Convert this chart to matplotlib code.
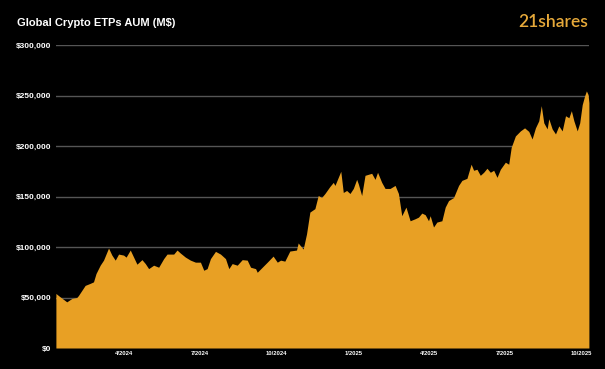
import matplotlib
matplotlib.use("Agg")
import matplotlib.pyplot as plt
import pandas as pd

# Global crypto ETP assets under management (millions of USD)
dates = [
    "2024-01-11", "2024-01-16", "2024-01-24", "2024-01-30", "2024-02-05", "2024-02-07",
    "2024-02-11", "2024-02-15", "2024-02-21", "2024-02-25", "2024-02-28", "2024-03-04",
    "2024-03-08", "2024-03-12", "2024-03-14", "2024-03-18", "2024-03-22", "2024-03-26",
    "2024-04-01", "2024-04-04", "2024-04-09", "2024-04-13", "2024-04-17", "2024-04-23",
    "2024-04-27", "2024-05-01", "2024-05-07", "2024-05-13", "2024-05-19", "2024-05-23",
    "2024-05-31", "2024-06-04", "2024-06-08", "2024-06-14", "2024-06-20", "2024-06-26",
    "2024-07-02", "2024-07-06", "2024-07-10", "2024-07-14", "2024-07-20", "2024-07-26",
    "2024-08-01", "2024-08-05", "2024-08-09", "2024-08-15", "2024-08-21", "2024-08-27",
    "2024-08-31", "2024-09-06", "2024-09-08", "2024-09-14", "2024-09-20", "2024-09-27",
    "2024-10-02", "2024-10-06", "2024-10-11", "2024-10-17", "2024-10-25", "2024-10-27",
    "2024-11-02", "2024-11-06", "2024-11-10", "2024-11-16", "2024-11-20", "2024-11-24",
    "2024-11-28", "2024-12-04", "2024-12-08", "2024-12-10", "2024-12-14", "2024-12-17",
    "2024-12-20", "2024-12-24", "2024-12-28", "2025-01-01", "2025-01-05", "2025-01-07",
    "2025-01-11", "2025-01-15", "2025-01-19", "2025-01-23", "2025-01-27", "2025-01-30",
    "2025-02-04", "2025-02-08", "2025-02-14", "2025-02-20", "2025-02-24", "2025-02-28",
    "2025-03-05", "2025-03-10", "2025-03-16", "2025-03-20", "2025-03-24", "2025-03-28",
    "2025-04-01", "2025-04-03", "2025-04-07", "2025-04-11", "2025-04-17", "2025-04-21",
    "2025-04-25", "2025-05-01", "2025-05-07", "2025-05-11", "2025-05-17", "2025-05-22",
    "2025-05-25", "2025-05-29", "2025-06-02", "2025-06-06", "2025-06-10", "2025-06-14",
    "2025-06-18", "2025-06-22", "2025-06-26", "2025-07-02", "2025-07-06", "2025-07-09",
    "2025-07-14", "2025-07-20", "2025-07-25", "2025-07-30", "2025-08-03", "2025-08-07",
    "2025-08-11", "2025-08-14", "2025-08-17", "2025-08-21", "2025-08-23", "2025-08-27",
    "2025-08-31", "2025-09-04", "2025-09-08", "2025-09-12", "2025-09-16", "2025-09-19",
    "2025-09-22", "2025-09-26", "2025-09-29", "2025-10-02", "2025-10-05", "2025-10-07",
    "2025-10-09", "2025-10-10",
]
aum = [
    54000, 50700, 45700, 49000, 50000, 52000,
    57000, 62000, 64000, 65500, 73700, 82000,
    87000, 95000, 99000, 92000, 87000, 93000,
    92000, 90000, 97000, 90000, 83000, 87500,
    83600, 78600, 82000, 80000, 88500, 93000,
    93000, 97000, 94000, 90000, 87000, 85000,
    85000, 77000, 78600, 88500, 95700, 93000,
    88500, 78600, 83600, 82000, 87500, 87000,
    80000, 78600, 75000, 80000, 85000, 91000,
    85000, 87000, 86000, 96000, 97000, 104000,
    98000, 113000, 134600, 138000, 151000, 149000,
    153000, 160000, 164000, 161000, 169000, 175000,
    154000, 156000, 153000, 158000, 167000, 162500,
    151000, 171000, 172000, 173000, 167000, 174000,
    164000, 158000, 158000, 161000, 153000, 131000,
    139500, 126000, 128000, 129600, 133600, 132000,
    126000, 131000, 119800, 124700, 126000, 139500,
    146000, 149000, 161000, 166000, 168000, 182000,
    176000, 177000, 171000, 174000, 178000, 174000,
    176000, 169000, 177000, 184000, 182000, 198700,
    210000, 215000, 218000, 214500, 207000, 218000,
    225000, 240000, 223000, 217000, 227000, 217000,
    212000, 220000, 215000, 230000, 228000, 235000,
    225000, 215000, 223000, 241000, 250000, 254600,
    251000, 243000,
]

tick_dates = ["2024-04-01", "2024-07-01", "2024-10-01", "2025-01-01",
              "2025-04-01", "2025-07-01", "2025-10-01"]
tick_labels = ["4/2024", "7/2024", "10/2024", "1/2025", "4/2025", "7/2025", "10/2025"]
y_ticks = [0, 50000, 100000, 150000, 200000, 250000, 300000]

x = pd.to_datetime(dates)
fill_color = "#E8A024"

plt.rcParams["font.family"] = ["Liberation Sans", "DejaVu Sans"]

fig = plt.figure(figsize=(6.05, 3.69), dpi=100, facecolor="black")
ax = fig.add_axes([0.0924, 0.0569, 0.881, 0.821], facecolor="black")

# grid behind the area
for v in y_ticks[1:]:
    ax.axhline(v, color="#555555", linewidth=1.0, zorder=1)

ax.fill_between(x, aum, 0, color=fill_color, linewidth=0, zorder=2)

ax.set_xlim(x[0], x[-1])
ax.set_ylim(0, 300000)

ax.set_yticks(y_ticks)
ax.set_yticklabels(["$0" if v == 0 else "${:,.0f}".format(v) for v in y_ticks],
                   color="white", fontsize=6, fontweight="bold")
ax.set_xticks(pd.to_datetime(tick_dates))
ax.set_xticklabels(tick_labels, color="white", fontsize=4.2, fontweight="bold")
ax.tick_params(axis="y", length=0, pad=3.5)
ax.tick_params(axis="x", length=0, pad=2.5)
for s in ax.spines.values():
    s.set_visible(False)

fig.text(0.028, 0.938, "Global Crypto ETPs AUM (M$)", color="white",
         fontsize=8, fontweight="bold", ha="left", va="center")
fig.text(0.972, 0.94, "21shares", color="#E6A93A", fontsize=12.5,
         ha="right", va="center", family=["Lato", "DejaVu Sans"], fontweight="semibold")

fig.savefig("out.png", dpi=100, facecolor="black")
